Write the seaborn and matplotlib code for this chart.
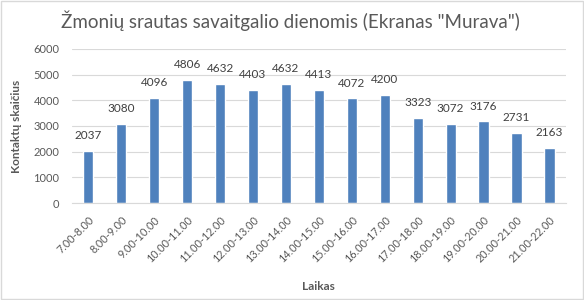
import matplotlib
matplotlib.use("Agg")
import matplotlib.pyplot as plt
import seaborn as sns
import pandas as pd
from matplotlib.patches import Rectangle

categories = ["7.00-8.00", "8.00-9.00", "9.00-10.00", "10.00-11.00", "11.00-12.00",
              "12.00-13.00", "13.00-14.00", "14.00-15.00", "15.00-16.00", "16.00-17.00",
              "17.00-18.00", "18.00-19.00", "19.00-20.00", "20.00-21.00", "21.00-22.00"]
values = [2037, 3080, 4096, 4806, 4632, 4403, 4632, 4413, 4072, 4200,
          3323, 3072, 3176, 2731, 2163]
yticks = [0, 1000, 2000, 3000, 4000, 5000, 6000]

sns.set_theme(style="white")
plt.rcParams['font.family'] = ['Lato', 'DejaVu Sans']

df = pd.DataFrame({"Laikas": categories, "Kontaktų skaičius": values})

fig = plt.figure(figsize=(5.84, 3.0), dpi=100)
ax = fig.add_axes([0.123, 0.323, 0.846, 0.514])
sns.barplot(data=df, x="Laikas", y="Kontaktų skaičius", color="#4F81BD",
            saturation=1, width=0.31, ax=ax)

ax.set_ylim(0, 6000)
ax.set_yticks(yticks)
ax.set_yticklabels([str(t) for t in yticks])
ax.yaxis.grid(True, color="#D9D9D9", linewidth=0.8)
ax.set_axisbelow(True)
for s in ["top", "right", "left"]:
    ax.spines[s].set_visible(False)
ax.spines["bottom"].set_color("#D9D9D9")
ax.spines["bottom"].set_linewidth(0.8)
ax.tick_params(axis="both", length=0, colors="#595959")
ax.tick_params(axis="y", pad=9, labelsize=8)
ax.tick_params(axis="x", pad=8, labelsize=7.8)
plt.setp(ax.get_xticklabels(), rotation=45, ha="right", rotation_mode="anchor")

for c in ax.containers:
    ax.bar_label(c, labels=[str(v) for v in values], padding=7, fontsize=8.5, color="#404040")

ax.set_xlabel("Laikas", fontsize=8.5, fontweight="bold", color="#595959", labelpad=12)
ax.set_ylabel("Kontaktų skaičius", fontsize=8.5, fontweight="bold", color="#595959", labelpad=8)

fig.text(0.497, 0.93, 'Žmonių srautas savaitgalio dienomis (Ekranas "Murava")',
         ha="center", va="center", fontsize=13.5, color="#595959")

fig.patches.append(Rectangle((0.001, 0.002), 0.997, 0.995, transform=fig.transFigure,
                             fill=False, edgecolor="#D9D9D9", linewidth=1))

fig.savefig("out.png", dpi=100)
